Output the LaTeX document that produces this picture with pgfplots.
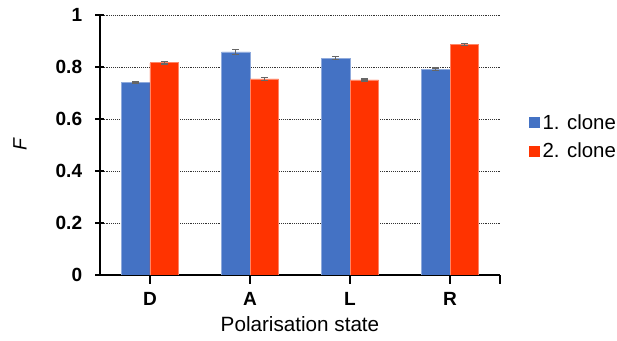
\documentclass[border=0pt]{standalone}
\usepackage{fontspec}
\setmainfont{Liberation Sans}
\usepackage{pgfplots}
\pgfplotsset{compat=1.18}
\definecolor{cblue}{HTML}{4472C4}
\definecolor{cred}{HTML}{FF3300}
\begin{document}
\begin{tikzpicture}
\useasboundingbox (-75pt,-49.5pt) rectangle (387.75pt,206.25pt);
\begin{axis}[
  at={(0,0)}, anchor=south west,
  scale only axis, width=300pt, height=195pt,
  xmin=-0.5, xmax=3.5, ymin=0, ymax=1,
  axis x line*=bottom, axis y line*=left,
  axis line style={line width=1.5pt, black},
  every tick/.style={black, line width=1.2pt},
  major tick length=6.75pt, tick align=center,
  xtick={0,1,2,3,3.5}, xticklabels={D,A,L,R,},
  ytick={0,0.2,0.4,0.6,0.8,1},
  yticklabels={0,0.2,0.4,0.6,0.8,1},
  ymajorgrids, grid style={densely dotted, black!80, line width=0.7pt},
  /pgf/number format/assume math mode=true,
  ticklabel style={font=\fontsize{14.3}{17}\selectfont\bfseries},
  xticklabel style={yshift=-3pt},
  yticklabel style={xshift=-6.5pt},
  xlabel={Polarisation state},
  ylabel={\itshape F},
  xlabel style={font=\fontsize{15.5}{18}\selectfont, at={(axis description cs:0.5,-0.19)}, anchor=center},
  ylabel style={font=\fontsize{14.5}{17}\selectfont, at={(axis description cs:-0.2,0.5)}, anchor=center},
  ybar=0pt, bar width=0.285,
  legend style={draw=none, at={(1.0625,0.53)}, anchor=west,
    font=\fontsize{15.3}{18}\selectfont, row sep=5pt, fill=none},
  legend cell align=left,
]
\addplot[fill=cblue, draw=cblue!60!white, line width=0.5pt, bar shift=-0.1425,
  legend image code/.code={\fill[cblue] (0pt,-3.75pt) rectangle (7.5pt,3.75pt);},
  error bars/.cd, y dir=both, y explicit,
  error bar style={color=black!60, line width=1pt},
  error mark options={rotate=90, mark size=2.5pt, line width=1pt, color=black!60}]
  coordinates {(0,0.742) +- (0,0.003) (1,0.858) +- (0,0.009) (2,0.834) +- (0,0.006) (3,0.791) +- (0,0.005)};
\addlegendentry{1. clone}
\addplot[fill=cred, draw=cred!60!white, line width=0.5pt, bar shift=0.1425,
  legend image code/.code={\fill[cred] (0pt,-3.75pt) rectangle (7.5pt,3.75pt);},
  error bars/.cd, y dir=both, y explicit,
  error bar style={color=black!60, line width=1pt},
  error mark options={rotate=90, mark size=2.5pt, line width=1pt, color=black!60}]
  coordinates {(0,0.816) +- (0,0.004) (1,0.754) +- (0,0.006) (2,0.750) +- (0,0.004) (3,0.886) +- (0,0.004)};
\addlegendentry{2. clone}
\end{axis}
\end{tikzpicture}
\end{document}
